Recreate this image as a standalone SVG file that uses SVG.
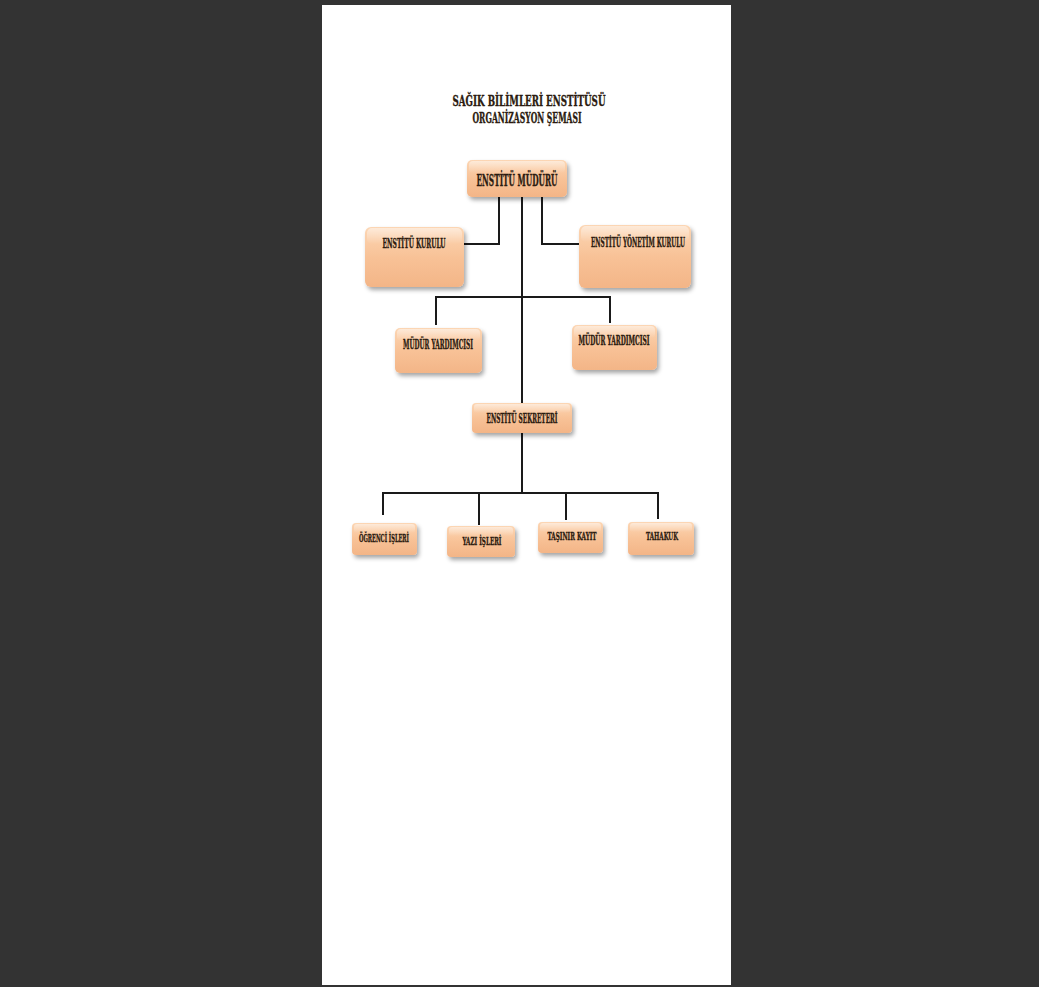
<svg xmlns="http://www.w3.org/2000/svg" width="1039" height="987" viewBox="0 0 1039 987">
<style>
  .box { fill: url(#peach); filter: url(#sh); }
  .hl { fill: url(#shine); }
  .t { font-family: "DejaVu Serif Condensed", "Liberation Serif", serif; font-weight: bold; fill: #2b1b10; stroke: #2b1b10; stroke-width: 0.35; text-anchor: middle; }
  .c { fill: none; stroke: #1a1a1a; stroke-width: 2; }
</style>
<defs>
  <linearGradient id="peach" x1="0" y1="0" x2="0" y2="1">
    <stop offset="0" stop-color="#fcd6b4"/>
    <stop offset="0.5" stop-color="#f8c297"/>
    <stop offset="1" stop-color="#f3b587"/>
  </linearGradient>
  <linearGradient id="shine" x1="0" y1="0" x2="0" y2="1">
    <stop offset="0" stop-color="#ffffff" stop-opacity="0.5"/>
    <stop offset="1" stop-color="#ffffff" stop-opacity="0"/>
  </linearGradient>
  <filter id="sh" x="-20%" y="-20%" width="150%" height="160%">
    <feDropShadow dx="2" dy="3" stdDeviation="2" flood-color="#000" flood-opacity="0.35"/>
  </filter>
</defs>
<rect x="0" y="0" width="1039" height="987" fill="#333333"/>
<rect x="322" y="5" width="409" height="980" fill="#ffffff"/>

<g id="title">
  <text class="t" x="529" y="106" font-size="15" textLength="153" lengthAdjust="spacingAndGlyphs">SAĞIK BİLİMLERİ ENSTİTÜSÜ</text>
  <text class="t" x="527" y="123" font-size="15" textLength="109" lengthAdjust="spacingAndGlyphs">ORGANİZASYON ŞEMASI</text>
</g>

<g id="connectors">
  <path class="c" d="M522 197 V493"/>
  <path class="c" d="M499 197 V244 H463"/>
  <path class="c" d="M542 197 V244 H580"/>
  <path class="c" d="M436 325 V297 H610 V323"/>
  <path class="c" d="M383 515 V493 H658 V519"/>
  <path class="c" d="M479 493 V525"/>
  <path class="c" d="M566 493 V520"/>
</g>

<g id="n-mudur">
  <rect class="box" x="467" y="160" width="100" height="37" rx="5"/>
  <rect class="hl" x="469" y="161" width="96" height="12" rx="4"/>
  <text class="t" x="517" y="186" font-size="17" textLength="81" lengthAdjust="spacingAndGlyphs">ENSTİTÜ MÜDÜRÜ</text>
</g>
<g id="n-kurulu">
  <rect class="box" x="365" y="227" width="99" height="60" rx="6"/>
  <rect class="hl" x="367" y="228" width="95" height="16" rx="5"/>
  <text class="t" x="414" y="248" font-size="12" textLength="63" lengthAdjust="spacingAndGlyphs">ENSTİTÜ KURULU</text>
</g>
<g id="n-yonetim">
  <rect class="box" x="579" y="225" width="112" height="63" rx="6"/>
  <rect class="hl" x="581" y="226" width="108" height="16" rx="5"/>
  <text class="t" x="638" y="247" font-size="12" textLength="94" lengthAdjust="spacingAndGlyphs">ENSTİTÜ YÖNETİM KURULU</text>
</g>
<g id="n-yard1">
  <rect class="box" x="395" y="328" width="87" height="45" rx="5"/>
  <rect class="hl" x="397" y="329" width="83" height="12" rx="4"/>
  <text class="t" x="438" y="349" font-size="12" textLength="70" lengthAdjust="spacingAndGlyphs">MÜDÜR YARDIMCISI</text>
</g>
<g id="n-yard2">
  <rect class="box" x="572" y="325" width="85" height="45" rx="5"/>
  <rect class="hl" x="574" y="326" width="81" height="12" rx="4"/>
  <text class="t" x="614" y="345" font-size="12" textLength="71" lengthAdjust="spacingAndGlyphs">MÜDÜR YARDIMCISI</text>
</g>
<g id="n-sekreter">
  <rect class="box" x="472" y="403" width="100" height="30" rx="4"/>
  <rect class="hl" x="474" y="404" width="96" height="9" rx="3"/>
  <text class="t" x="522" y="423" font-size="12" textLength="71" lengthAdjust="spacingAndGlyphs">ENSTİTÜ SEKRETERİ</text>
</g>
<g id="n-ogrenci">
  <rect class="box" x="352" y="523" width="65" height="32" rx="4"/>
  <rect class="hl" x="354" y="524" width="61" height="9" rx="3"/>
  <text class="t" x="384" y="542" font-size="11" textLength="50" lengthAdjust="spacingAndGlyphs">ÖĞRENCİ İŞLERİ</text>
</g>
<g id="n-yazi">
  <rect class="box" x="447" y="526" width="68" height="31" rx="4"/>
  <rect class="hl" x="449" y="527" width="64" height="9" rx="3"/>
  <text class="t" x="482" y="545" font-size="11" textLength="39" lengthAdjust="spacingAndGlyphs">YAZI İŞLERİ</text>
</g>
<g id="n-tasinir">
  <rect class="box" x="538" y="522" width="65" height="31" rx="4"/>
  <rect class="hl" x="540" y="523" width="61" height="9" rx="3"/>
  <text class="t" x="572" y="540" font-size="11" textLength="49" lengthAdjust="spacingAndGlyphs">TAŞINIR KAYIT</text>
</g>
<g id="n-tahakuk">
  <rect class="box" x="628" y="522" width="66" height="33" rx="4"/>
  <rect class="hl" x="630" y="523" width="62" height="9" rx="3"/>
  <text class="t" x="662" y="540" font-size="11" textLength="32" lengthAdjust="spacingAndGlyphs">TAHAKUK</text>
</g>
</svg>
